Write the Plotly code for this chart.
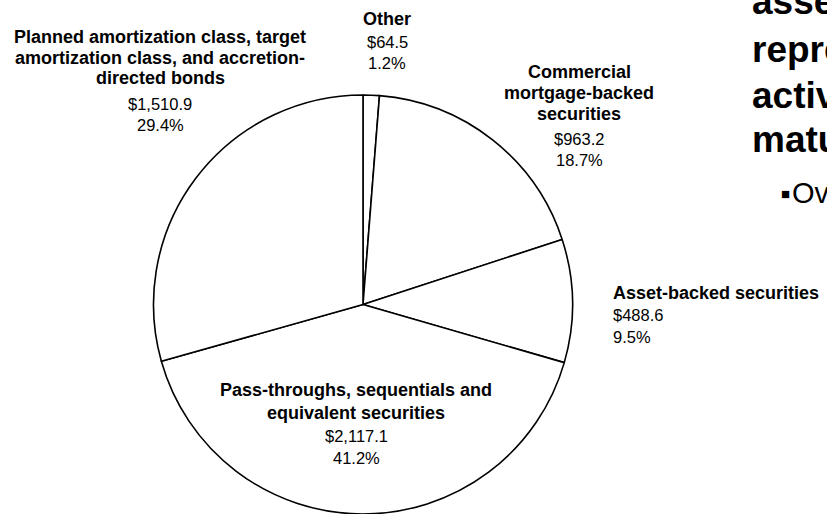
import plotly.graph_objects as go

W, H = 827, 514

# Holdings by bond type ($ millions) and their share of the total
categories = [
    "Other",
    "Commercial mortgage-backed securities",
    "Asset-backed securities",
    "Pass-throughs, sequentials and equivalent securities",
    "Planned amortization class, target amortization class, and accretion-directed bonds",
]
values = [64.5, 963.2, 488.6, 2117.1, 1510.9]
shares = [1.2, 18.7, 9.5, 41.2, 29.4]
name_lines = [
    ["Other"],
    ["Commercial", "mortgage-backed", "securities"],
    ["Asset-backed securities"],
    ["Pass-throughs, sequentials and", "equivalent securities"],
    ["Planned amortization class, target", "amortization class, and accretion-", "directed bonds"],
]

# Slide text running in from the right edge
side_lines = ["asse", "repre", "activ", "matu"]
side_bullet = "Ov"

FONT = "Arial, Liberation Sans, sans-serif"


def px(x):
    return x / W


def py(y):
    return 1 - y / H


fig = go.Figure()

# Pie: centre (363, 304.5), radius 209.5 px
cx, cy, r = 363, 304.5, 209.5
fig.add_trace(go.Pie(
    labels=categories,
    values=values,
    sort=False,
    direction="clockwise",
    rotation=0,
    marker=dict(colors=["white"] * len(values), line=dict(color="black", width=1.6)),
    textinfo="none",
    hoverinfo="label+value+percent",
    showlegend=False,
    domain=dict(x=[px(cx - r), px(cx + r)], y=[py(cy + r), py(cy - r)]),
))

# label placement: anchor x, alignment, y of each name line, y of value lines
label_pos = [
    dict(x=387, align="center", names=[19], vals=[41.5, 62.5]),
    dict(x=579, align="center", names=[72, 92.8, 113.6], vals=[139, 160]),
    dict(x=613, align="left", names=[292.5], vals=[315, 336.5]),
    dict(x=356, align="center", names=[390, 413], vals=[436, 458]),
    dict(x=160, align="center", names=[37, 58, 78], vals=[104, 125]),
]

annotations = []


def add_text(text, x, y, anchor, size, bold=False, color="black"):
    annotations.append(dict(
        text=f"<b>{text}</b>" if bold else text,
        x=px(x), y=py(y), xref="paper", yref="paper",
        xanchor=anchor, yanchor="middle", showarrow=False,
        borderpad=0, borderwidth=0,
        font=dict(family=FONT, size=size, color=color),
    ))


for i, pos in enumerate(label_pos):
    for line, y in zip(name_lines[i], pos["names"]):
        add_text(line, pos["x"], y, pos["align"], 18, bold=True)
    val_texts = [f"${values[i]:,.1f}", f"{shares[i]:.1f}%"]
    for t, y in zip(val_texts, pos["vals"]):
        add_text(t, pos["x"], y, pos["align"], 16.5)

for t, y in zip(side_lines, [2, 50, 95, 140]):
    add_text(t, 752, y, "left", 37, bold=True)
add_text("■", 781, 193, "left", 15)
add_text(side_bullet, 792, 193, "left", 29)

fig.update_layout(
    width=W, height=H,
    margin=dict(l=0, r=0, t=0, b=0),
    paper_bgcolor="white", plot_bgcolor="white",
    annotations=annotations,
)

fig.write_html("out.html")
